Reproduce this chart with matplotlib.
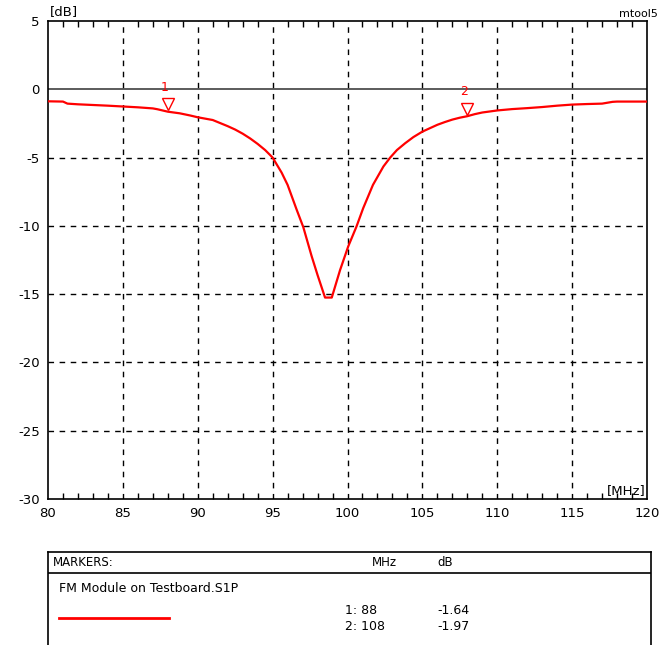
import matplotlib
matplotlib.use("Agg")
import matplotlib.pyplot as plt
from matplotlib.transforms import offset_copy
from matplotlib.lines import Line2D

freq_mhz = [80, 81, 81.3, 82, 83, 84, 85, 86, 87, 87.3, 88, 88.8, 89.5, 90, 91, 92, 92.5, 93, 93.5, 94, 94.5,
            95, 95.6, 96, 96.6, 97.05, 97.6, 98, 98.5, 98.95, 99.5, 100.05, 100.6, 101.05, 101.7, 102.4,
            102.85, 103.3, 103.85, 104.4, 105, 105.5, 106, 106.5, 107, 107.5, 108, 108.5, 109, 110,
            111, 112, 113, 114, 115, 116, 117, 117.7, 118, 119, 120]
s11_db = [-0.88, -0.9, -1.05, -1.1, -1.15, -1.2, -1.26, -1.32, -1.4, -1.46, -1.64, -1.76, -1.92, -2.05,
          -2.25, -2.7, -2.95, -3.25, -3.6, -4.0, -4.45,
          -5.0, -6.1, -7.0, -8.8, -10.1, -12.2, -13.6, -15.25, -15.25, -13.25, -11.5, -10.05, -8.7, -7.0, -5.65,
          -5.0, -4.45, -3.95, -3.5, -3.1, -2.85, -2.6, -2.4, -2.22, -2.08, -1.97, -1.82, -1.7, -1.55,
          -1.45, -1.38, -1.3, -1.2, -1.12, -1.08, -1.05, -0.92, -0.9, -0.9, -0.9]

marker_ids = ["1", "2"]
marker_freq = [88, 108]
marker_db = [-1.64, -1.97]

x_ticks = [80, 85, 90, 95, 100, 105, 110, 115, 120]
y_ticks = [5, 0, -5, -10, -15, -20, -25, -30]
trace_name = "FM Module on Testboard.S1P"

RED = "#ff0000"
W, H = 662, 645
plt.rcParams['font.family'] = ['DejaVu Sans']
plt.rcParams['axes.unicode_minus'] = False
fig = plt.figure(figsize=(W / 100, H / 100), dpi=100)

ax = fig.add_axes([48 / W, (H - 499) / H, 599 / W, 478 / H])
ax.set_xlim(80, 120)
ax.set_ylim(-30, 5)

for v in x_ticks[1:-1]:
    ax.axvline(v, color="black", lw=1, ls=(0, (4, 4)), zorder=1)
for v in y_ticks[2:-1]:
    ax.axhline(v, color="black", lw=1, ls=(0, (4, 4)), zorder=1)
ax.axhline(0, color="#404040", lw=1.2, zorder=1)

ax.plot(freq_mhz, s11_db, color=RED, lw=1.6, zorder=3)

for mid, mf, md in zip(marker_ids, marker_freq, marker_db):
    tr = offset_copy(ax.transData, fig=fig, x=0, y=5.5, units="points")
    ax.plot([mf], [md], marker="v", ms=8, mfc="white", mec=RED, mew=1.0,
            transform=tr, zorder=4, clip_on=False)
    ax.annotate(mid, (mf, md), xytext=(-2, 13), textcoords="offset points",
                color=RED, fontsize=9, ha="center", va="bottom")

ax.set_xticks(x_ticks)
ax.set_yticks(y_ticks)
ax.set_xticks(range(80, 121), minor=True)
ax.tick_params(axis="x", which="minor", direction="in", length=4, top=True, bottom=True, width=1)
ax.tick_params(axis="x", which="major", direction="in", length=0, pad=6, labelsize=9.5)
ax.tick_params(axis="y", which="major", direction="in", length=0, pad=6, labelsize=9.5)
for s in ax.spines.values():
    s.set_linewidth(1.2)

fig.text(50 / W, 1 - 12 / H, "[dB]", fontsize=9.5, ha="left", va="center")
fig.text(658 / W, 1 - 14 / H, "mtool5", fontsize=8, ha="right", va="center")
ax.text(0.997, 0.005, "[MHz]", transform=ax.transAxes, fontsize=9.5, ha="right", va="bottom")

# marker table box
bx = fig.add_axes([48 / W, 0, 603 / W, (H - 552) / H])
bx.set_xlim(0, 603)
bx.set_ylim(H - 552, 0)
bx.set_xticks([])
bx.set_yticks([])
bx.spines["bottom"].set_visible(False)
for s in ["top", "left", "right"]:
    bx.spines[s].set_linewidth(1.2)
bx.axhline(21, color="black", lw=1.2)
fs = 8.5
bx.text(5, 10, "MARKERS:", fontsize=fs, va="center", ha="left")
bx.text(324, 10, "MHz", fontsize=fs, va="center", ha="left")
bx.text(389, 10, "dB", fontsize=fs, va="center", ha="left")
bx.text(11, 37, trace_name, fontsize=9, va="center", ha="left")
bx.add_line(Line2D([11, 121], [66, 66], color=RED, lw=2))
for i, (mid, mf, md) in enumerate(zip(marker_ids, marker_freq, marker_db)):
    y = 58 + 17 * i
    bx.text(297, y, f"{mid}: {mf}", fontsize=9, va="center", ha="left")
    bx.text(389, y, f"{md:.2f}", fontsize=9, va="center", ha="left")

fig.savefig("out.png", dpi=100)
